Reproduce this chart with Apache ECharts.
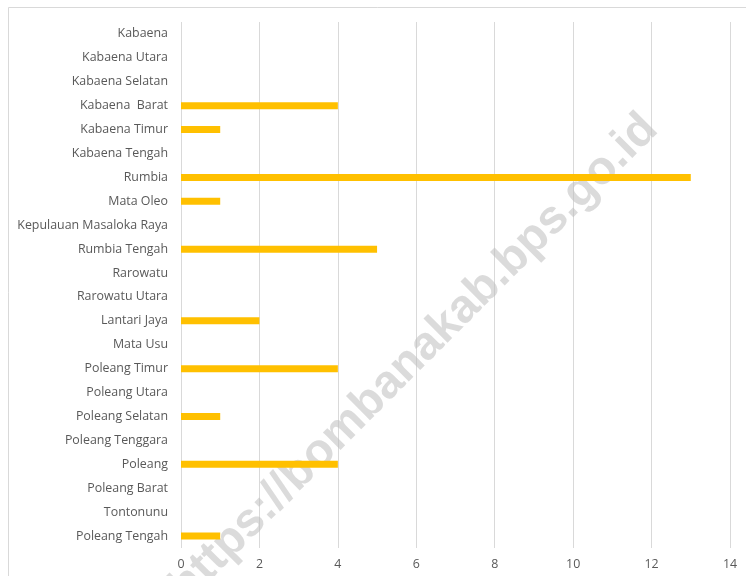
<!DOCTYPE html>
<html>
<head>
<meta charset="utf-8">
<script src="https://cdn.jsdelivr.net/npm/echarts@6/dist/echarts.min.js"></script>
<style>html,body{margin:0;padding:0;background:#fff;}#c{width:746px;height:576px;}</style>
</head>
<body>
<div id="c"></div>
<script>
const categories = ["Kabaena","Kabaena Utara","Kabaena Selatan","Kabaena  Barat","Kabaena Timur","Kabaena Tengah","Rumbia","Mata Oleo","Kepulauan Masaloka Raya","Rumbia Tengah","Rarowatu","Rarowatu Utara","Lantari Jaya","Mata Usu","Poleang Timur","Poleang Utara","Poleang Selatan","Poleang Tenggara","Poleang","Poleang Barat","Tontonunu","Poleang Tengah"];
const values = [0,0,0,4,1,0,13,1,0,5,0,0,2,0,4,0,1,0,4,0,0,1];
const xTicks = [0,2,4,6,8,10,12,14];

const chart = echarts.init(document.getElementById('c'), null, {renderer:'canvas'});
chart.setOption({
  animation:false,
  backgroundColor:'#fff',
  grid:{left:181,right:16,top:22,bottom:28,containLabel:false},
  xAxis:{type:'value',min:xTicks[0],max:xTicks[xTicks.length-1],interval:2,
    axisLine:{show:false},axisTick:{show:false},
    splitLine:{show:true,lineStyle:{color:'#d9d9d9',width:1}},
    axisLabel:{color:'#595959',fontSize:12.4,fontFamily:'Open Sans',margin:10}},
  yAxis:{type:'category',inverse:true,data:categories,
    axisLine:{show:false},axisTick:{show:false},
    axisLabel:{color:'#595959',fontSize:12.4,fontFamily:'Open Sans',margin:13}},
  series:[{type:'bar',data:values,barWidth:7,itemStyle:{color:'#FFC000'},z:3}],
  graphic:[
    {type:'rect',left:6,top:5,z:-10,shape:{width:800,height:800},style:{fill:'none',stroke:'#d9d9d9',lineWidth:1},silent:true},
    {type:'text',x:414,y:358,rotation:Math.PI/4,z:1,silent:true,
      style:{text:'https://bombanakab.bps.go.id',font:'bold 47px "Liberation Sans"',fill:'rgba(190,190,190,0.55)',align:'center',verticalAlign:'middle'}}
  ]
});
</script>
</body>
</html>
